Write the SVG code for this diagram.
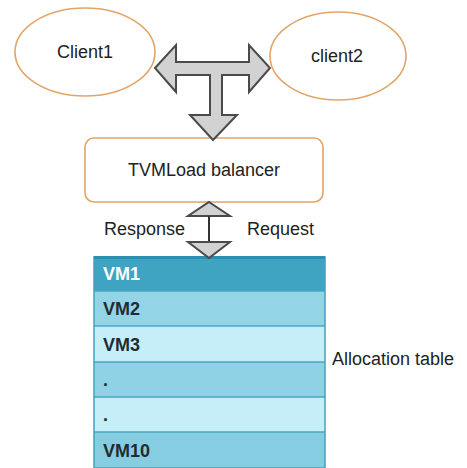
<svg xmlns="http://www.w3.org/2000/svg" width="467" height="468" viewBox="0 0 467 468">
<style>
.t{font-family:"Liberation Sans",Arial,sans-serif;font-size:18px;fill:#222}
.c{fill:#fff;stroke:#e3a468;stroke-width:1.6}
.ar{fill:#d2d2d2;stroke:#4a4a4a;stroke-width:2;stroke-linejoin:miter}
.vm{font-family:"Liberation Sans",Arial,sans-serif;font-size:18px;font-weight:bold;fill:#1f2d33}
.sep{stroke:#4ea4c0;stroke-width:1.5}
</style>
<rect width="467" height="468" fill="#fff"/>
<g id="client1">
<ellipse class="c" cx="85" cy="52" rx="70" ry="44"/>
<text class="t" x="85" y="58" text-anchor="middle">Client1</text>
</g>
<g id="client2">
<ellipse class="c" cx="338" cy="56" rx="68" ry="44"/>
<text class="t" x="337" y="62" text-anchor="middle">client2</text>
</g>
<g id="balancer">
<rect x="85" y="138" width="238" height="64" rx="9" fill="#fff" stroke="#e3a468" stroke-width="1.6"/>
<text class="t" x="204" y="176" text-anchor="middle">TVMLoad balancer</text>
</g>
<g id="table">
<rect x="94" y="257" width="231" height="34" fill="#3ea4c2"/>
<rect x="94" y="291" width="231" height="35" fill="#93d4e6"/>
<rect x="94" y="326" width="231" height="36" fill="#c6eef8"/>
<rect x="94" y="362" width="231" height="35" fill="#8fd2e5"/>
<rect x="94" y="397" width="231" height="35" fill="#c6eef8"/>
<rect x="94" y="432" width="231" height="36" fill="#86cde2"/>
<line class="sep" x1="94" y1="291" x2="325" y2="291"/>
<line class="sep" x1="94" y1="326" x2="325" y2="326"/>
<line class="sep" x1="94" y1="362" x2="325" y2="362"/>
<line class="sep" x1="94" y1="397" x2="325" y2="397"/>
<line class="sep" x1="94" y1="432" x2="325" y2="432"/>
<rect x="94" y="257" width="231" height="211" fill="none" stroke="#4a9fbb" stroke-width="1.5"/>
<line x1="94" y1="257.5" x2="325" y2="257.5" stroke="#2a8fb0" stroke-width="3"/>
<text class="vm" x="103" y="280" style="fill:#fff">VM1</text>
<text class="vm" x="103" y="315">VM2</text>
<text class="vm" x="103" y="351">VM3</text>
<text class="vm" x="103" y="386">.</text>
<text class="vm" x="103" y="421">.</text>
<text class="vm" x="103" y="457">VM10</text>
<text class="t" x="332" y="365">Allocation table</text>
</g>
<g id="connectors">
<path class="ar" d="M155,68 L176,45 L176,62 L249,62 L249,45 L270,68 L249,92 L249,75 L222,75 L222,115 L237,115 L213,140 L190,115 L210,115 L210,75 L176,75 L176,92 Z"/>
<path class="ar" d="M209,202 L230,216 L188,216 Z"/>
<line x1="209" y1="216" x2="209" y2="242" stroke="#333" stroke-width="2"/>
<path class="ar" d="M188,242 L230,242 L209,258 Z"/>
<text class="t" x="104" y="235">Response</text>
<text class="t" x="247" y="235">Request</text>
</g>
</svg>
